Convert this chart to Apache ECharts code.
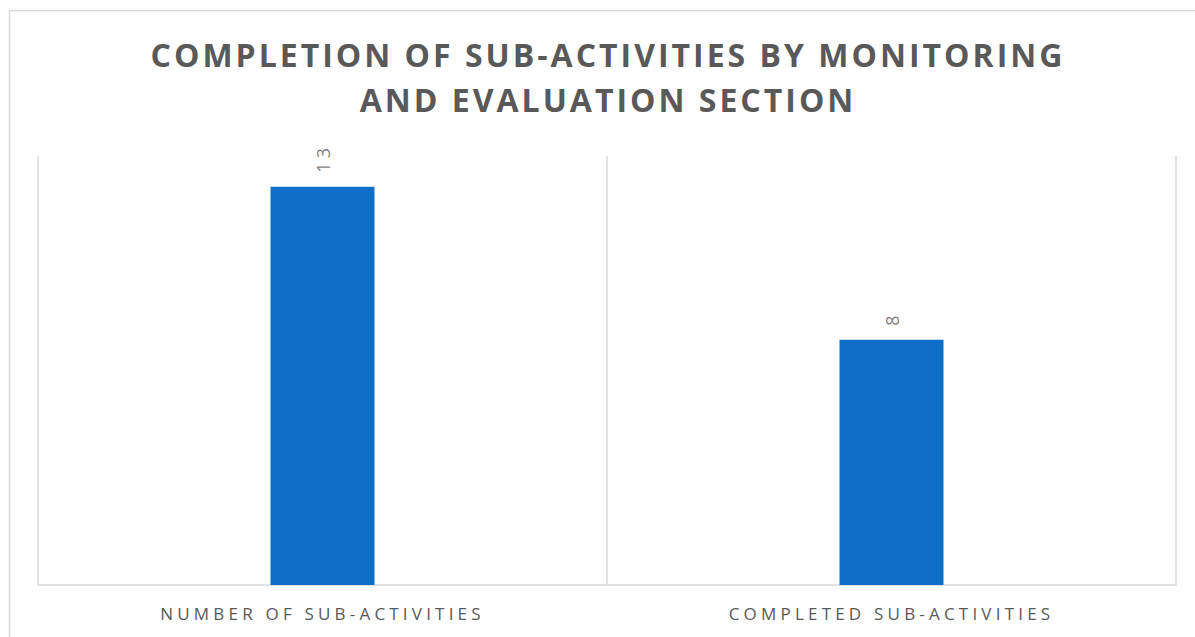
<!DOCTYPE html>
<html>
<head>
<meta charset="utf-8">
<script src="https://cdn.jsdelivr.net/npm/echarts@6/dist/echarts.min.js"></script>
<style>
  html, body { margin: 0; padding: 0; background: #fff; }
  #chart { width: 1195px; height: 637px; }
  #chart text { letter-spacing: 4.2px; }
  #chart text[style*="bold"] { letter-spacing: 3px; }
</style>
</head>
<body>
<div id="chart"></div>
<script>
var titleText = 'COMPLETION OF SUB-ACTIVITIES BY MONITORING\nAND EVALUATION SECTION'
var categories = ['NUMBER OF SUB-ACTIVITIES', 'COMPLETED SUB-ACTIVITIES']
var values = [13, 8]

var myChart = echarts.init(document.getElementById('chart'), null, { renderer: 'svg' })
var option = {
  animation: false,
  textStyle: { fontFamily: 'Open Sans' },
  title: {
    text: titleText,
    left: 603,
    top: 27,
    textAlign: 'center',
    textStyle: {
      color: '#595959',
      fontSize: 32,
      fontWeight: 'bold',
      lineHeight: 45,
      fontFamily: 'Open Sans'
    }
  },
  graphic: [{
    type: 'rect',
    shape: { x: 9.5, y: 10.5, width: 1220, height: 700 },
    style: { fill: 'none', stroke: '#d9d9d9', lineWidth: 1.5 },
    silent: true
  }],
  grid: {
    left: 38,
    right: 19,
    top: 156,
    bottom: 52
  },
  xAxis: {
    type: 'category',
    data: categories,
    axisTick: { show: false },
    axisLine: { lineStyle: { color: '#d9d9d9', width: 1.5 } },
    splitLine: { show: true, lineStyle: { color: '#d9d9d9', width: 1.5 } },
    axisLabel: {
      color: '#595959',
      fontSize: 17,
      margin: 20,
      fontFamily: 'Open Sans'
    }
  },
  yAxis: {
    type: 'value',
    min: 0,
    max: 14,
    show: false,
    splitLine: { show: false }
  },
  series: [{
    type: 'bar',
    data: values,
    barWidth: 104,
    itemStyle: { color: '#0f6fc6' },
    label: {
      show: true,
      position: 'top',
      rotate: 90,
      distance: 14,
      align: 'left',
      verticalAlign: 'middle',
      color: '#7f7f7f',
      fontSize: 18,
      fontFamily: 'Open Sans'
    }
  }]
}
myChart.setOption(option)
</script>
</body>
</html>
